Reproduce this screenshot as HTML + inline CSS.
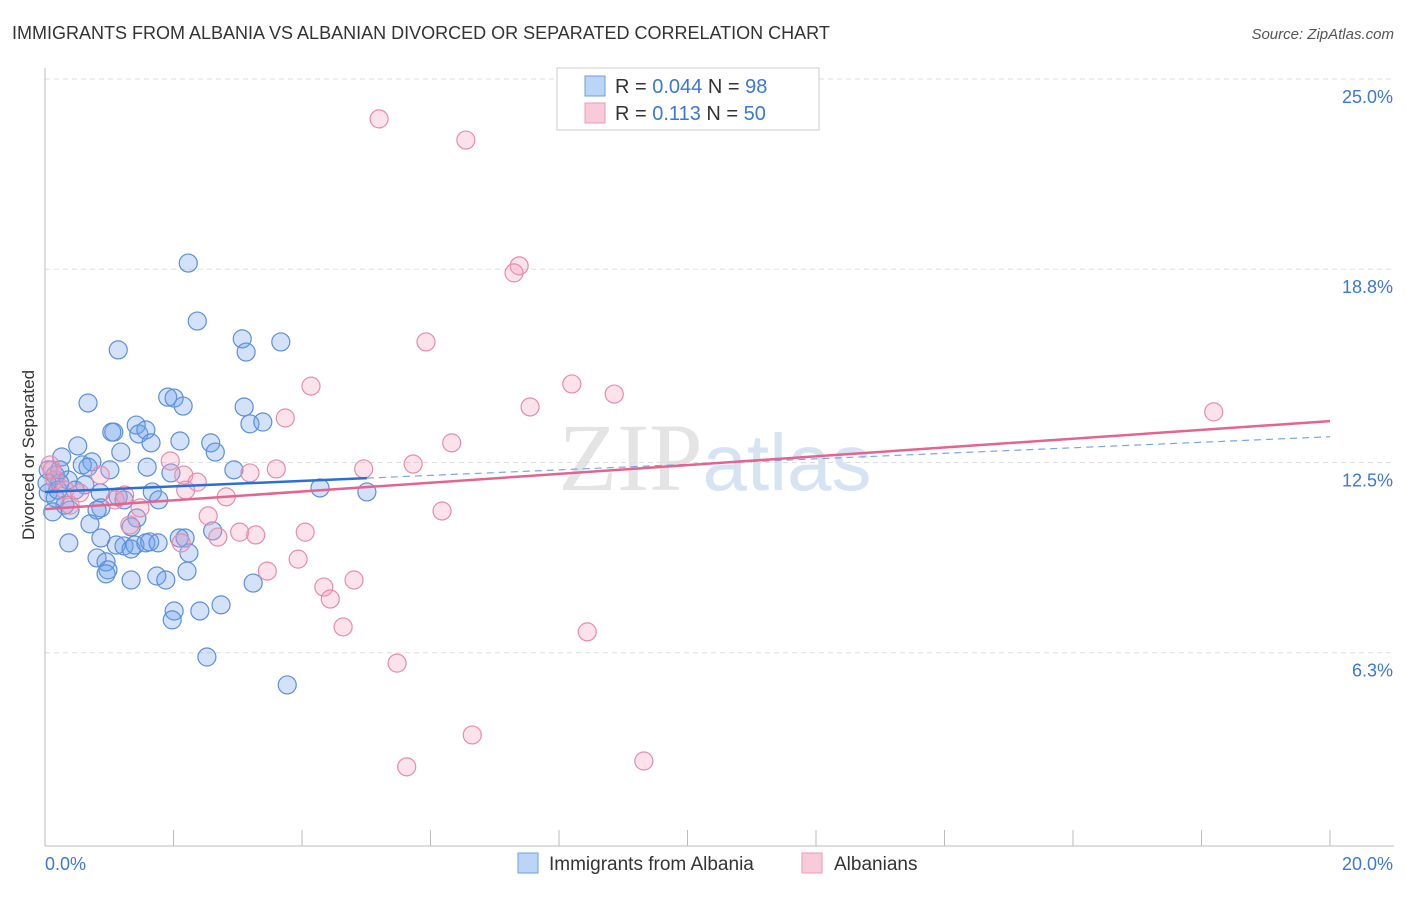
<!DOCTYPE html>
<html><head><meta charset="utf-8"><style>
body{margin:0;background:#fff;font-family:"Liberation Sans",sans-serif}
</style></head><body>
<svg id="chart" width="1406" height="892" xmlns="http://www.w3.org/2000/svg" font-family="Liberation Sans, sans-serif">
<text x="12" y="39" font-size="18" fill="#333">IMMIGRANTS FROM ALBANIA VS ALBANIAN DIVORCED OR SEPARATED CORRELATION CHART</text>
<text x="1394" y="39" font-size="15" fill="#555" text-anchor="end" font-style="italic">Source: ZipAtlas.com</text>
<text x="715" y="490" font-size="96" fill="#e4e4e4" text-anchor="middle" font-family="Liberation Serif, serif">ZIP<tspan fill="#d5e3f3" font-family="Liberation Sans, sans-serif" font-size="80">atlas</tspan></text>
<g id="grid"></g><g id="axes"></g><g id="pts"></g><g id="lines"></g>
<text transform="translate(34,455) rotate(-90)" font-size="17" fill="#333" text-anchor="middle">Divorced or Separated</text>
<g>
<rect x="557" y="68" width="262" height="62" fill="#fff" stroke="#ccc"/>
<rect x="585" y="76" width="20" height="20" fill="#bcd4f5" stroke="#6d9ee0"/>
<rect x="585" y="103" width="20" height="20" fill="#f9cad9" stroke="#ec9ab5"/>
<text x="615" y="93" font-size="20" fill="#333">R = <tspan fill="#3b78d8">0.044</tspan>   N = <tspan fill="#3b78d8">98</tspan></text>
<text x="615" y="120" font-size="20" fill="#333">R =   <tspan fill="#3b78d8">0.113</tspan>   N = <tspan fill="#3b78d8">50</tspan></text>
</g>
<g>
<rect x="518" y="853" width="20" height="20" fill="#bcd4f5" stroke="#6d9ee0"/>
<text x="549" y="870" font-size="19" fill="#333">Immigrants from Albania</text>
<rect x="802" y="853" width="20" height="20" fill="#f9cad9" stroke="#ec9ab5"/>
<text x="834" y="870" font-size="19" fill="#333">Albanians</text>
</g>
</svg>
<script>
const blueX=[2.23,2.37,1.14,3.07,3.13,3.67,0.67,1.91,2.01,2.15,3.10,3.19,3.39,1.07,1.42,1.46,1.57,1.04,2.10,0.51,1.65,2.58,2.65,1.18,0.26,0.73,0.58,0.67,1.01,1.59,1.96,2.94,0.05,0.16,0.36,0.23,0.47,0.86,1.14,1.23,1.67,1.77,0.87,0.81,0.31,0.39,0.16,0.12,0.05,4.28,5.01,0.70,1.43,1.34,0.37,0.87,1.11,1.23,1.34,1.40,1.57,1.63,1.76,2.09,2.18,2.61,0.81,0.95,0.98,0.95,1.74,1.88,2.21,2.24,1.34,3.24,2.74,2.01,1.98,2.41,2.52,3.77,0.23,0.03,0.20,0.62];
const blueY=[19.00,17.11,16.17,16.53,16.10,16.43,14.44,14.63,14.60,14.34,14.31,13.76,13.82,13.49,13.72,13.43,13.56,13.49,13.20,13.04,13.14,13.14,12.84,12.84,12.68,12.52,12.42,12.35,12.26,12.35,12.16,12.26,12.26,12.09,11.93,11.83,11.60,11.51,11.38,11.28,11.54,11.28,11.02,10.95,11.11,10.95,11.34,10.89,11.51,11.67,11.54,10.50,10.69,10.40,9.88,10.04,9.81,9.78,9.68,9.81,9.88,9.91,9.88,10.04,10.04,10.27,9.39,9.26,9.00,8.87,8.80,8.67,8.96,9.55,8.67,8.57,7.86,7.66,7.37,7.66,6.16,5.25,12.26,11.83,11.60,11.77];
const pinkX=[5.20,6.55,7.38,7.30,5.93,4.14,8.20,8.86,7.55,3.74,6.33,18.19,5.73,4.96,3.60,3.19,1.95,2.16,2.37,2.19,2.82,1.48,1.32,2.54,3.03,3.28,2.69,4.05,2.12,3.46,3.94,4.34,4.44,4.81,4.64,8.44,6.18,5.48,6.65,5.63,9.32,0.08,0.16,0.31,0.54,0.86,1.09,1.24,0.39,0.11];
const pinkY=[23.70,23.01,18.91,18.68,16.43,14.99,15.06,14.73,14.31,13.95,13.14,14.15,12.45,12.29,12.29,12.16,12.55,12.09,11.86,11.60,11.38,11.02,10.46,10.76,10.23,10.14,10.07,10.23,9.88,8.96,9.35,8.44,8.05,8.67,7.14,6.98,10.92,5.96,3.62,2.58,2.77,12.42,11.93,11.60,11.51,12.09,11.28,11.44,11.11,12.26];
const yTicks=[25.0,18.8,12.5,6.3];
const yTickLabels=["25.0%","18.8%","12.5%","6.3%"];
const blueTrend=[11.54,0.09];
const pinkTrend=[10.98,0.1435];
const NS="http://www.w3.org/2000/svg";
const sx=v=>45+v/20*1285, sy=v=>846-v*30.68;
function mk(t,a,p){const e=document.createElementNS(NS,t);for(const k in a)e.setAttribute(k,a[k]);document.getElementById(p).appendChild(e);return e;}
yTicks.forEach((t,i)=>{
 const l=mk('line',{x1:45,x2:1394,y1:sy(t),y2:sy(t),stroke:'#ddd','stroke-dasharray':'5,4'},'grid');
 
 
 const tx=mk('text',{x:1393,y:sy(t)+24,'font-size':18,fill:'#3b78d8','text-anchor':'end'},'grid');
 
 
 tx.textContent=yTickLabels[i];
});
const ax=mk('line',{x1:45,x2:45,y1:68,y2:846,stroke:'#bbb'},'axes');


const bx=mk('line',{x1:45,x2:1394,y1:846,y2:846,stroke:'#bbb'},'axes');


for(let i=0;i<=10;i++){const t=mk('line',{x1:sx(i*2),x2:sx(i*2),y1:830,y2:846,stroke:'#bbb'},'axes');
 
 }
const x0=mk('text',{x:45,y:870,'font-size':18,fill:'#3b78d8'},'axes');x0.textContent='0.0%';


const x1=mk('text',{x:1393,y:870,'font-size':18,fill:'#3b78d8','text-anchor':'end'},'axes');x1.textContent='20.0%';


blueX.forEach((x,i)=>{const c=mk('circle',{cx:sx(x),cy:sy(blueY[i]),r:9,fill:'rgba(110,160,235,0.3)',stroke:'#5b8fdb','stroke-width':1.2},'pts');
 
 });
pinkX.forEach((x,i)=>{const c=mk('circle',{cx:sx(x),cy:sy(pinkY[i]),r:9,fill:'rgba(245,160,190,0.3)',stroke:'#e98bab','stroke-width':1.2},'pts');
 
 });
const bt=x=>blueTrend[0]+blueTrend[1]*x, pt=x=>pinkTrend[0]+pinkTrend[1]*x;
const l1=mk('line',{x1:sx(0),y1:sy(bt(0)),x2:sx(5.01),y2:sy(bt(5.01)),stroke:'#2a6fd6','stroke-width':2.5},'lines');


const l2=mk('line',{x1:sx(5.01),y1:sy(bt(5.01)),x2:sx(20),y2:sy(bt(20)),stroke:'#7aa6e6','stroke-width':1.2,'stroke-dasharray':'7,5'},'lines');


const l3=mk('line',{x1:sx(0),y1:sy(pt(0)),x2:sx(20),y2:sy(pt(20)),stroke:'#e5648f','stroke-width':2.5},'lines');


</script>
</body></html>
